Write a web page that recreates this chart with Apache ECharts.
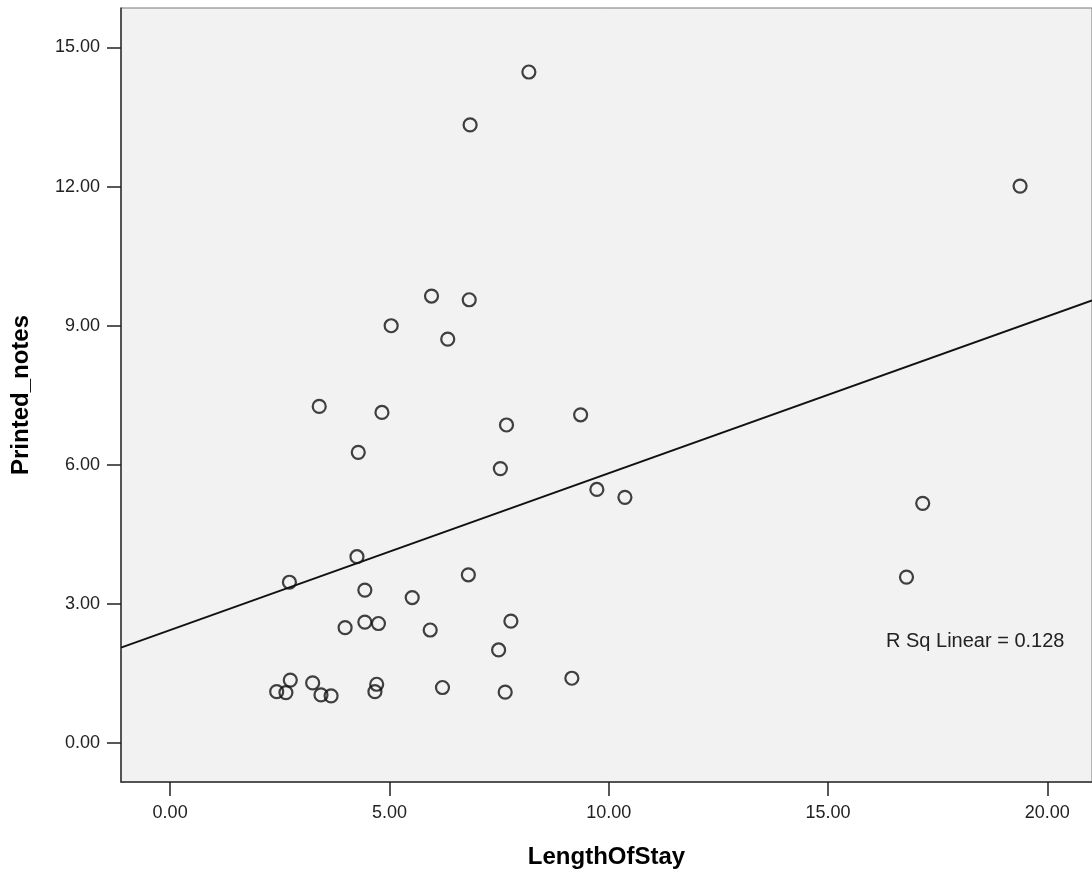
<!DOCTYPE html>
<html>
<head>
<meta charset="utf-8">
<script src="https://cdn.jsdelivr.net/npm/echarts@6/dist/echarts.min.js"></script>
<style>
html,body{margin:0;padding:0;background:#fff;}
#chart{width:1092px;height:869px;}
</style>
</head>
<body>
<div id="chart"></div>
<script>
// Data
const lengthOfStay = [2.72, 4.26, 4.44, 5.52, 3.99, 4.44, 4.75, 5.93, 2.43, 2.64, 2.74, 3.25, 3.44, 3.67, 4.71, 4.67, 6.80, 7.77, 7.49, 6.21, 7.64, 9.16, 5.96, 6.82, 5.04, 6.33, 3.40, 4.83, 9.36, 7.67, 4.29, 7.53, 8.18, 6.84, 19.38, 17.16, 16.79, 9.73, 10.37];
const printedNotes = [3.47, 4.02, 3.30, 3.14, 2.49, 2.61, 2.58, 2.44, 1.11, 1.09, 1.36, 1.30, 1.04, 1.02, 1.27, 1.11, 3.63, 2.63, 2.01, 1.20, 1.10, 1.40, 9.64, 9.56, 9.00, 8.71, 7.26, 7.13, 7.08, 6.86, 6.27, 5.92, 14.47, 13.33, 12.01, 5.17, 3.58, 5.47, 5.30];
const xTicks = [0, 5, 10, 15, 20];
const yTicks = [0, 3, 6, 9, 12, 15];
const xRange = [-1.12, 21.02];
const yRange = [-0.837, 15.85];
const fitIntercept = 2.44;
const fitSlope = 0.338;
const rSqLabel = 'R Sq Linear = 0.128';

const points = lengthOfStay.map((x, i) => [x, printedNotes[i]]);
const fitLine = xRange.map(x => [x, fitIntercept + fitSlope * x]);

const chart = echarts.init(document.getElementById('chart'), null, {renderer: 'canvas'});
const fontFamily = "'Liberation Sans', Arial, sans-serif";
chart.setOption({
  backgroundColor: '#ffffff',
  animation: false,
  grid: {
    left: 121, top: 8, width: 971, height: 774,
    containLabel: false, outerBoundsMode: 'none',
    show: true, backgroundColor: '#f2f2f2', borderColor: '#777', borderWidth: 1
  },
  xAxis: {
    type: 'value', min: xRange[0], max: xRange[1],
    name: 'LengthOfStay', nameLocation: 'middle', nameGap: 63,
    nameTextStyle: {fontFamily, fontSize: 24, fontWeight: 'bold', color: '#000'},
    axisLine: {show: true, onZero: false, lineStyle: {color: '#333', width: 1.5}},
    axisTick: {show: true, length: 14, inside: false, customValues: xTicks, lineStyle: {color: '#222', width: 1.5}},
    axisLabel: {customValues: xTicks, margin: 22, fontFamily, fontSize: 18, color: '#222',
      formatter: v => v.toFixed(2)},
    splitLine: {show: false}
  },
  yAxis: {
    type: 'value', min: yRange[0], max: yRange[1],
    name: 'Printed_notes', nameLocation: 'middle', nameGap: 88, nameRotate: 90,
    nameTextStyle: {fontFamily, fontSize: 24, fontWeight: 'bold', color: '#000'},
    axisLine: {show: true, onZero: false, lineStyle: {color: '#333', width: 1.5}},
    axisTick: {show: true, length: 14, inside: false, customValues: yTicks, lineStyle: {color: '#222', width: 1.5}},
    axisLabel: {customValues: yTicks, margin: 21, fontFamily, fontSize: 18, color: '#222',
      formatter: v => v.toFixed(2)},
    splitLine: {show: false}
  },
  series: [
    {
      type: 'line', data: fitLine, symbol: 'none', silent: true,
      lineStyle: {color: '#111', width: 1.8}, clip: true, z: 2
    },
    {
      type: 'scatter', data: points, symbol: 'circle', symbolSize: 13,
      itemStyle: {color: 'rgba(0,0,0,0)', borderColor: '#111', borderWidth: 2.2}, z: 3
    }
  ],
  graphic: [{
    type: 'text', left: 886, top: 631,
    style: {text: rSqLabel, fontFamily, fontSize: 20, fill: '#222'}
  }]
});
</script>
</body>
</html>
